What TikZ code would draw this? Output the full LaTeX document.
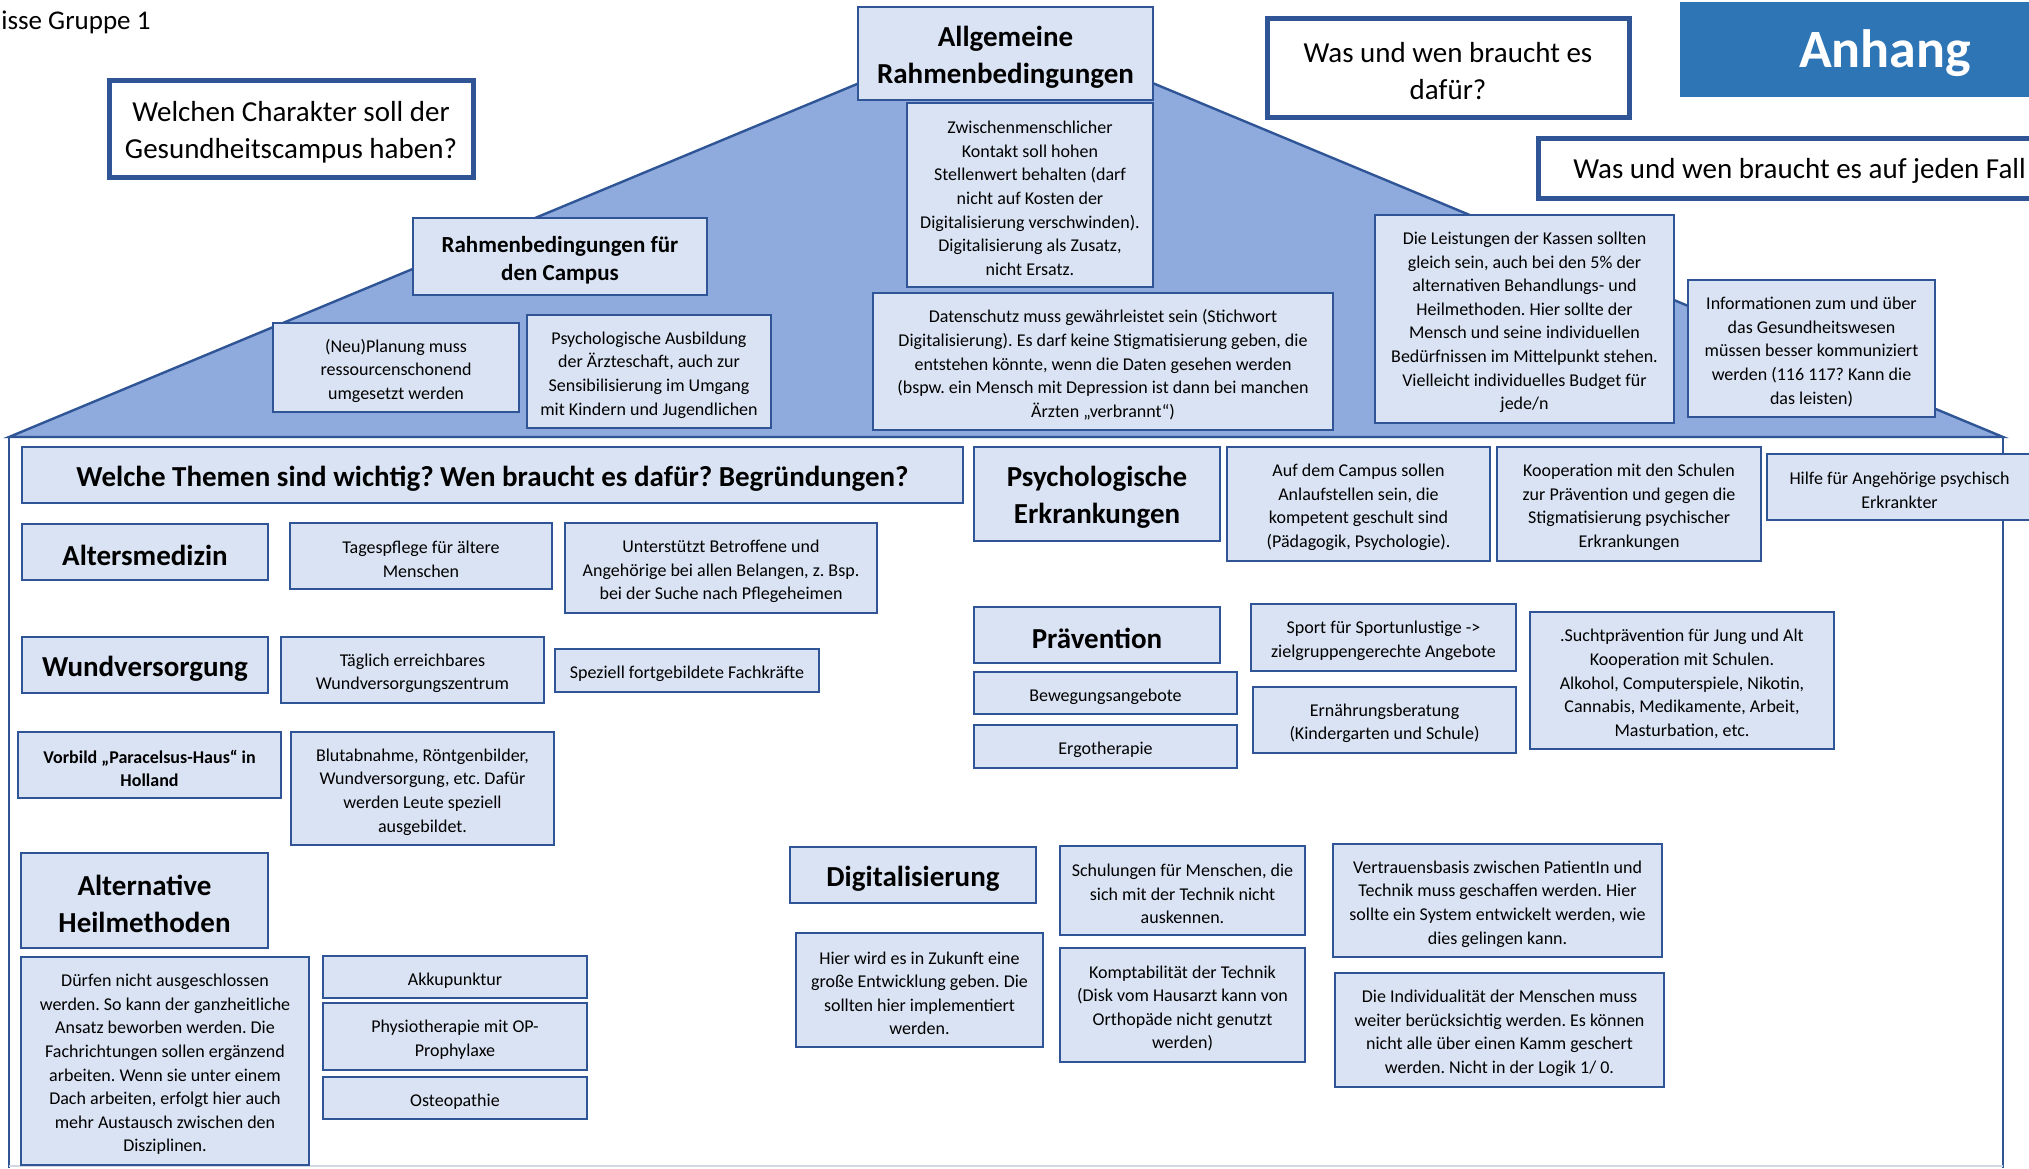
\documentclass[tikz,border=0pt]{standalone}
\usepackage{fontspec}
\setmainfont{Carlito}
\definecolor{bfill}{HTML}{DAE3F3}
\definecolor{bdr}{HTML}{2F5597}
\definecolor{rooffill}{HTML}{8FAADC}
\definecolor{anhblue}{HTML}{2E75B6}
\definecolor{lgray}{HTML}{D0D7E5}
\newcommand\fsmall{\fontsize{9}{11.8}\selectfont}
\newcommand\fhead{\fontsize{14.5}{18.5}\selectfont\bfseries}
\newcommand\fques{\fontsize{14.5}{18.5}\selectfont}
\newcommand\fmid{\fontsize{11.5}{14}\selectfont\bfseries}
\newcommand\fanh{\fontsize{27}{30}\selectfont\bfseries}
\newcommand\ftitle{\fontsize{13.5}{15}\selectfont}
\newcommand\mybox[7]{%
  \node[#6, minimum width={(#4-#2)*0.5pt}, minimum height={(#5-#3)*0.5pt}] (#1) at ({(#2+#4)/2},{(#3+#5)/2}) {};
  \node[#6, draw=none, fill=none, minimum width=0pt, minimum height=0pt] (#1-t) at ([yshift=-1.7pt]#1.center) {#7};}
\begin{document}
\frenchspacing
\begin{tikzpicture}[x=0.5pt,y=-0.5pt,
  box/.style={draw=bdr, fill=bfill, line width=1pt, align=center, inner sep=0pt, outer sep=0pt, font=\fsmall},
  headbox/.style={box, font=\fhead},
  midbox/.style={box, font=\fmid},
  smallbold/.style={box, font=\fsmall\bfseries},
  qbox/.style={draw=bdr, fill=white, line width=2.5pt, align=center, inner sep=0pt, font=\fques},
  anhbox/.style={draw=none, fill=anhblue, text=white, inner sep=0pt, font=\fanh},
  roof/.style={draw=bdr, fill=rooffill, line width=1.2pt},
  wall/.style={draw=bdr, line width=1pt}]
\useasboundingbox (0,0) rectangle (2029,1168);
\clip (0,0) rectangle (2029,1168);
\fill[white] (0,0) rectangle (2029,1168);
% roof and walls
\draw[roof] (9,437) -- (1006,22) -- (2003,437) -- cycle;
\draw[wall] (9,437) -- (9,1168);
\draw[wall] (2003,437) -- (2003,1168);
\draw[lgray, line width=1pt] (9,1166) -- (2003,1166);
% title
\node[anchor=base west, inner sep=0pt, font=\ftitle] (title) at (1,29) {isse Gruppe 1};
% question boxes
\mybox{q1}{109}{80}{473}{177}{qbox}{Welchen Charakter soll der\\Gesundheitscampus haben?}
\mybox{q2}{1267}{18}{1629}{117}{qbox}{Was und wen braucht es\\dafür?}
\mybox{q3}{1538}{138}{2200}{198}{qbox}{}
\node[anchor=west, inner sep=0pt, font=\fques] (q3t) at (1573,171) {Was und wen braucht es auf jeden Fall};
\mybox{anh}{1680}{2}{2090}{97}{anhbox}{Anhang}
% roof boxes
\mybox{allg}{858}{7}{1153}{100}{headbox}{Allgemeine\\Rahmenbedingungen}
\mybox{zwisch}{907}{103}{1153}{287}{box}{Zwischenmenschlicher\\Kontakt soll hohen\\Stellenwert behalten (darf\\nicht auf Kosten der\\Digitalisierung verschwinden).\\Digitalisierung als Zusatz,\\nicht Ersatz.}
\mybox{daten}{873}{293}{1333}{430}{box}{Datenschutz muss gewährleistet sein (Stichwort\\Digitalisierung). Es darf keine Stigmatisierung geben, die\\entstehen könnte, wenn die Daten gesehen werden\\(bspw. ein Mensch mit Depression ist dann bei manchen\\Ärzten „verbrannt“)}
\mybox{rcamp}{413}{218}{707}{295}{midbox}{Rahmenbedingungen für\\den Campus}
\mybox{neu}{273}{323}{519}{412}{box}{(Neu)Planung muss\\ressourcenschonend\\umgesetzt werden}
\mybox{psyaus}{527}{315}{771}{428}{box}{Psychologische Ausbildung\\der Ärzteschaft, auch zur\\Sensibilisierung im Umgang\\mit Kindern und Jugendlichen}
\mybox{leist}{1375}{215}{1674}{423}{box}{Die Leistungen der Kassen sollten\\gleich sein, auch bei den 5\% der\\alternativen Behandlungs- und\\Heilmethoden. Hier sollte der\\Mensch und seine individuellen\\Bedürfnissen im Mittelpunkt stehen.\\Vielleicht individuelles Budget für\\jede/n}
\mybox{info}{1688}{280}{1935}{417}{box}{Informationen zum und über\\das Gesundheitswesen\\müssen besser kommuniziert\\werden (116 117? Kann die\\das leisten)}
% body boxes
\mybox{welche}{22}{447}{963}{503}{headbox}{Welche Themen sind wichtig? Wen braucht es dafür? Begründungen?}
\mybox{alters}{22}{524}{268}{580}{headbox}{Altersmedizin}
\mybox{tages}{290}{523}{552}{589}{box}{Tagespflege für ältere\\Menschen}
\mybox{unterst}{565}{523}{877}{613}{box}{Unterstützt Betroffene und\\Angehörige bei allen Belangen, z. Bsp.\\bei der Suche nach Pflegeheimen}
\mybox{wund}{22}{637}{268}{693}{headbox}{Wundversorgung}
\mybox{taegl}{281}{637}{544}{703}{box}{Täglich erreichbares\\Wundversorgungszentrum}
\mybox{spez}{555}{649}{819}{692}{box}{Speziell fortgebildete Fachkräfte}
\mybox{vorb}{18}{732}{281}{798}{smallbold}{Vorbild „Paracelsus-Haus“ in\\Holland}
\mybox{blut}{291}{732}{554}{845}{box}{Blutabnahme, Röntgenbilder,\\Wundversorgung, etc. Dafür\\werden Leute speziell\\ausgebildet.}
\mybox{alt}{21}{853}{268}{948}{headbox}{Alternative\\Heilmethoden}
\mybox{duerf}{21}{957}{309}{1165}{box}{Dürfen nicht ausgeschlossen\\werden. So kann der ganzheitliche\\Ansatz beworben werden. Die\\Fachrichtungen sollen ergänzend\\arbeiten. Wenn sie unter einem\\Dach arbeiten, erfolgt hier auch\\mehr Austausch zwischen den\\Disziplinen.}
\mybox{akku}{323}{956}{587}{998}{box}{Akkupunktur}
\mybox{physio}{323}{1003}{587}{1070}{box}{Physiotherapie mit OP-\\Prophylaxe}
\mybox{osteo}{323}{1077}{587}{1119}{box}{Osteopathie}
\mybox{psyerk}{974}{447}{1220}{541}{headbox}{Psychologische\\Erkrankungen}
\mybox{campus}{1227}{447}{1490}{561}{box}{Auf dem Campus sollen\\Anlaufstellen sein, die\\kompetent geschult sind\\(Pädagogik, Psychologie).}
\mybox{koop}{1497}{447}{1761}{561}{box}{Kooperation mit den Schulen\\zur Prävention und gegen die\\Stigmatisierung psychischer\\Erkrankungen}
\mybox{hilfe}{1767}{454}{2032}{520}{box}{Hilfe für Angehörige psychisch\\Erkrankter}
\mybox{praev}{974}{607}{1220}{663}{headbox}{Prävention}
\mybox{beweg}{974}{672}{1237}{714}{box}{Bewegungsangebote}
\mybox{ergo}{974}{725}{1237}{768}{box}{Ergotherapie}
\mybox{sport}{1251}{604}{1516}{671}{box}{Sport für Sportunlustige ->\\zielgruppengerechte Angebote}
\mybox{ernae}{1253}{687}{1516}{753}{box}{Ernährungsberatung\\(Kindergarten und Schule)}
\mybox{sucht}{1530}{612}{1834}{749}{box}{.Suchtprävention für Jung und Alt\\Kooperation mit Schulen.\\Alkohol, Computerspiele, Nikotin,\\Cannabis, Medikamente, Arbeit,\\Masturbation, etc.}
\mybox{digi}{790}{847}{1036}{903}{headbox}{Digitalisierung}
\mybox{hier}{796}{933}{1043}{1047}{box}{Hier wird es in Zukunft eine\\große Entwicklung geben. Die\\sollten hier implementiert\\werden.}
\mybox{schul}{1060}{846}{1305}{935}{box}{Schulungen für Menschen, die\\sich mit der Technik nicht\\auskennen.}
\mybox{kompt}{1060}{948}{1305}{1062}{box}{Komptabilität der Technik\\(Disk vom Hausarzt kann von\\Orthopäde nicht genutzt\\werden)}
\mybox{vertr}{1333}{844}{1662}{957}{box}{Vertrauensbasis zwischen PatientIn und\\Technik muss geschaffen werden. Hier\\sollte ein System entwickelt werden, wie\\dies gelingen kann.}
\mybox{indiv}{1335}{973}{1664}{1087}{box}{Die Individualität der Menschen muss\\weiter berücksichtig werden. Es können\\nicht alle über einen Kamm geschert\\werden. Nicht in der Logik 1/ 0.}
\end{tikzpicture}
\end{document}
